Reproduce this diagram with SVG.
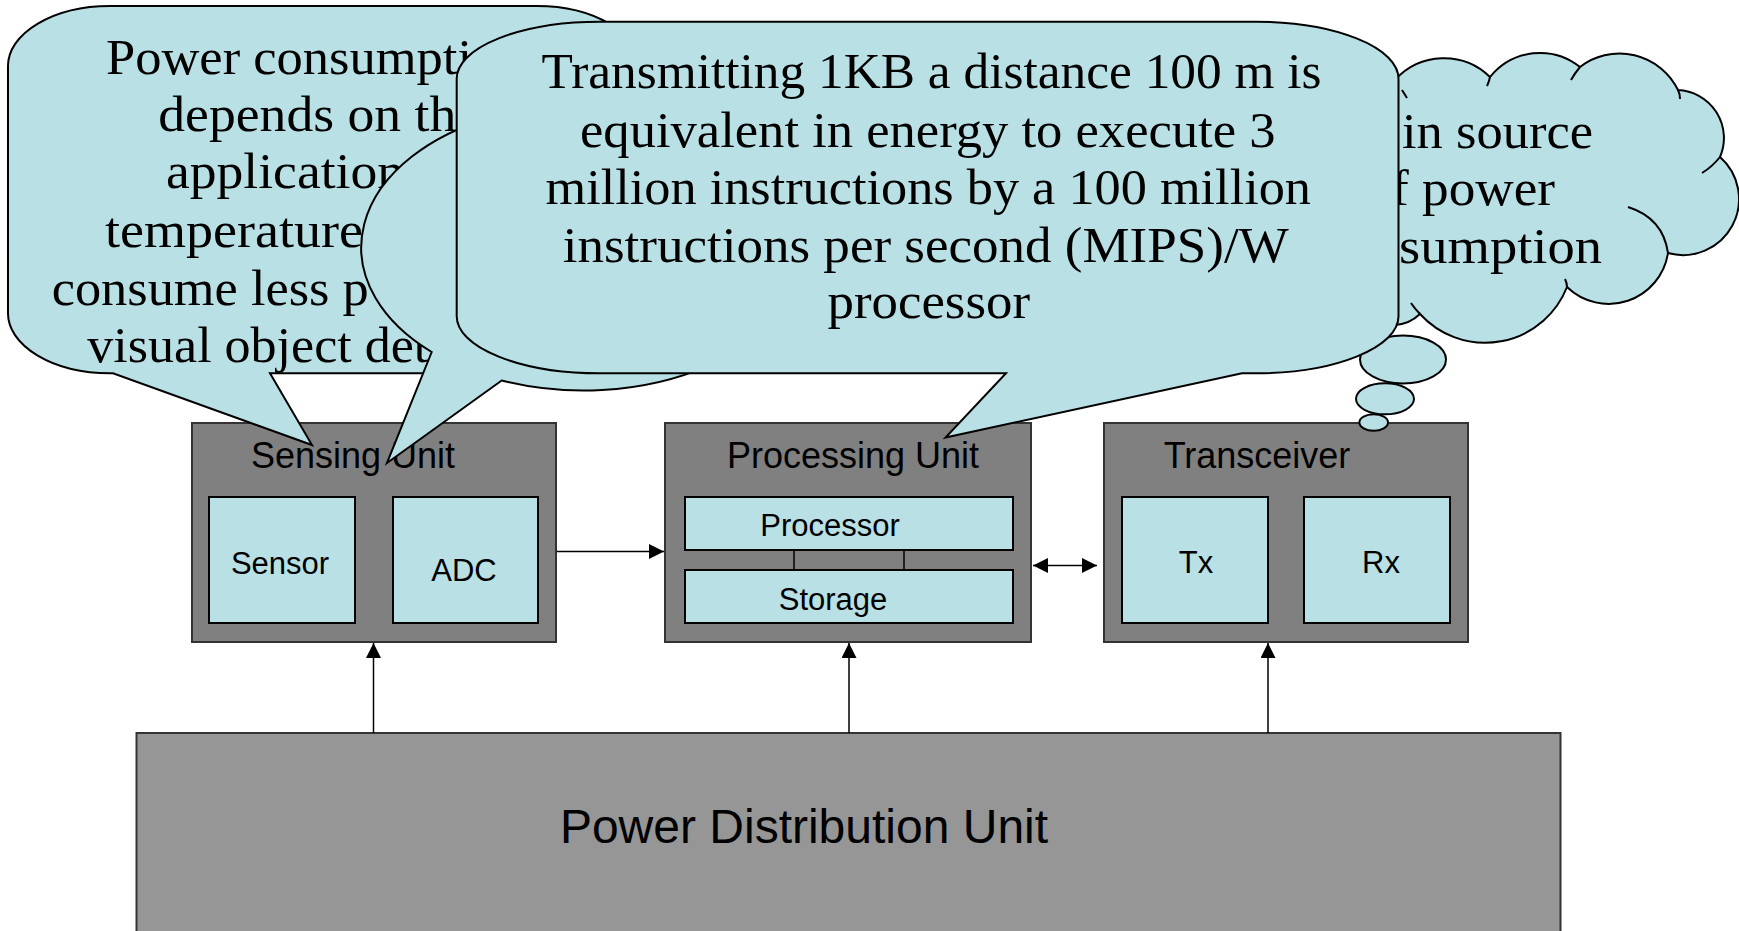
<svg xmlns="http://www.w3.org/2000/svg" width="1739" height="931" viewBox="0 0 1739 931">
<style>
.box{fill:#808080;stroke:#333;stroke-width:2}
.inner{fill:#B9E0E4;stroke:#000;stroke-width:2}
.pw{fill:#969696;stroke:#333;stroke-width:2}
.co{fill:#B9E0E4;stroke:#000;stroke-width:2;stroke-linejoin:miter}
.stub{fill:none;stroke:#000;stroke-width:2}
.sans{font-family:"Liberation Sans",Arial,sans-serif;fill:#000}
.t36{font-size:36px}
.t31{font-size:31px}
.serif{font-family:"Liberation Serif","Times New Roman",serif;font-size:50px;fill:#000}
.conn line{stroke:#000;stroke-width:1.5}
</style>
<defs>
<marker id="ah" viewBox="0 0 15 15" refX="15" refY="7.5" markerWidth="15" markerHeight="15" orient="auto-start-reverse" markerUnits="userSpaceOnUse"><path d="M0,0 L15,7.5 L0,15 Z" fill="#000"/></marker>
</defs>

<g id="power-unit">
<rect class="pw" x="136.5" y="733" width="1424" height="220"/>
<text class="sans" x="804" y="843" font-size="48" text-anchor="middle">Power Distribution Unit</text>
</g>

<g id="sensing-unit">
<rect class="box" x="192" y="423" width="364" height="219"/>
<text class="sans t36" x="353" y="468" text-anchor="middle">Sensing Unit</text>
<rect class="inner" x="209" y="497" width="146" height="126"/>
<text class="sans t31" x="280" y="574" text-anchor="middle">Sensor</text>
<rect class="inner" x="393" y="497" width="145" height="126"/>
<text class="sans t31" x="464" y="581" text-anchor="middle">ADC</text>
</g>

<g id="processing-unit">
<rect class="box" x="665" y="423" width="366" height="219"/>
<text class="sans t36" x="853" y="468" text-anchor="middle">Processing Unit</text>
<line x1="794" y1="550" x2="794" y2="570" stroke="#000" stroke-width="1.5"/>
<line x1="904" y1="550" x2="904" y2="570" stroke="#000" stroke-width="1.5"/>
<rect class="inner" x="685" y="497" width="328" height="53"/>
<text class="sans t31" x="830" y="536" text-anchor="middle">Processor</text>
<rect class="inner" x="685" y="570" width="328" height="53"/>
<text class="sans t31" x="833" y="610" text-anchor="middle">Storage</text>
</g>

<g id="transceiver">
<rect class="box" x="1104" y="423" width="364" height="219"/>
<text class="sans t36" x="1257" y="468" text-anchor="middle">Transceiver</text>
<rect class="inner" x="1122" y="497" width="146" height="126"/>
<text class="sans t31" x="1196" y="573" text-anchor="middle">Tx</text>
<rect class="inner" x="1304" y="497" width="146" height="126"/>
<text class="sans t31" x="1381" y="573" text-anchor="middle">Rx</text>
</g>

<g id="connectors" class="conn">
<line x1="557" y1="551.5" x2="664" y2="551.5" marker-end="url(#ah)"/>
<line x1="1033" y1="565.5" x2="1097" y2="565.5" marker-start="url(#ah)" marker-end="url(#ah)"/>
<line x1="373.5" y1="733" x2="373.5" y2="643" marker-end="url(#ah)"/>
<line x1="849" y1="733" x2="849" y2="643" marker-end="url(#ah)"/>
<line x1="1268" y1="733" x2="1268" y2="643" marker-end="url(#ah)"/>
</g>

<g id="callout-power">
<path class="co" d="M110 6 H537 A102 60 0 0 1 639 66 V313 A102 60 0 0 1 537 373.3 H270 L312 445 L113 373.3 H110 A102 60 0 0 1 8 313 V66 A102 60 0 0 1 110 6 Z"/>
<text class="serif" x="106" y="74" textLength="366" lengthAdjust="spacingAndGlyphs">Power consumpti</text>
<text class="serif" x="158.3" y="130.7" textLength="298" lengthAdjust="spacingAndGlyphs">depends on th</text>
<text class="serif" x="166" y="188.3" textLength="238" lengthAdjust="spacingAndGlyphs">application</text>
<text class="serif" x="105" y="246.7" textLength="258" lengthAdjust="spacingAndGlyphs">temperature</text>
<text class="serif" x="51.7" y="305" textLength="317" lengthAdjust="spacingAndGlyphs">consume less p</text>
<text class="serif" x="87.3" y="361.7" textLength="341" lengthAdjust="spacingAndGlyphs">visual object det</text>
</g>

<g id="callout-oval">
<path class="co" d="M501.7 380.5 L387 463 L431.7 352 A222 143 0 1 1 501.7 380.5 Z"/>
</g>

<g id="callout-cloud">
<path class="co" d="M1395 80 A66 66 0 0 1 1490 77 A64 64 0 0 1 1580 67 A65 65 0 0 1 1678 90 A48 48 0 0 1 1720 157 A56 56 0 0 1 1668 253 A60 60 0 0 1 1567 287 A88 88 0 0 1 1420 314 A40 40 0 0 1 1395 325 L1385 320 L1385 80 Z"/>
<path class="stub" d="M1490 77 q-1 5 -3 9 M1580 67 q-5 6 -9 13 M1678 90 q2 4 2 9 M1720 157 q-8 10 -18 16 M1628 207 Q1663 218 1668 253 M1567 287 q0 -4 -2 -8 M1420 314 q-5 -5 -9 -11 M1402 90 l5 8"/>
<ellipse class="co" cx="1403" cy="359.5" rx="43" ry="24"/>
<ellipse class="co" cx="1385" cy="398.8" rx="29" ry="15.5"/>
<ellipse class="co" cx="1373.7" cy="422.5" rx="14.3" ry="8.2"/>
<text class="serif" x="1402" y="148.3" textLength="191" lengthAdjust="spacingAndGlyphs">in source</text>
<text class="serif" x="1391" y="205" textLength="164" lengthAdjust="spacingAndGlyphs">f power</text>
<text class="serif" x="1399" y="263.3" textLength="203" lengthAdjust="spacingAndGlyphs">sumption</text>
</g>

<g id="callout-transmit">
<path class="co" d="M600 21.7 H1255.5 A143 57 0 0 1 1398.5 78.7 V316.3 A143 57 0 0 1 1255.5 373.3 H1242 L945.5 437.5 L1006 373.3 H600 A143 57 0 0 1 456.7 316.3 V78.7 A143 57 0 0 1 600 21.7 Z"/>
<text class="serif" x="541.6" y="88.3" textLength="780" lengthAdjust="spacingAndGlyphs">Transmitting 1KB a distance 100 m is</text>
<text class="serif" x="580" y="146.7" textLength="695.5" lengthAdjust="spacingAndGlyphs">equivalent in energy to execute 3</text>
<text class="serif" x="545.5" y="204" textLength="765.5" lengthAdjust="spacingAndGlyphs">million instructions by a 100 million</text>
<text class="serif" x="562.7" y="261.7" textLength="726" lengthAdjust="spacingAndGlyphs">instructions per second (MIPS)/W</text>
<text class="serif" x="827.5" y="318.3" textLength="202.5" lengthAdjust="spacingAndGlyphs">processor</text>
</g>
</svg>
